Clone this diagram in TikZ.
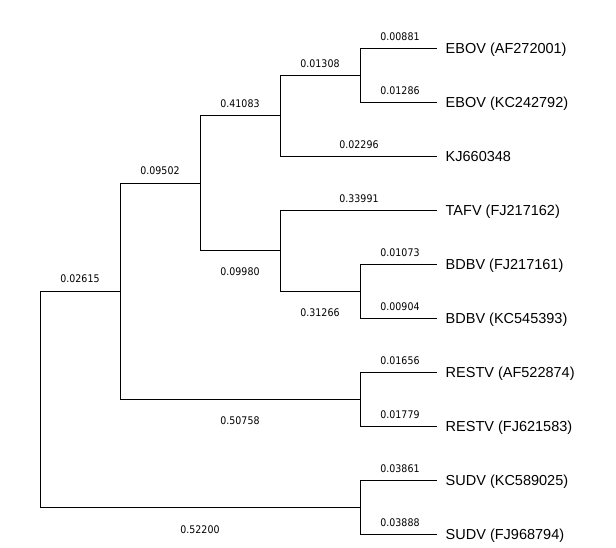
\documentclass[tikz,border=0pt]{standalone}
\usepackage{fontspec}
\setmainfont{Liberation Sans}
\newfontfamily\numfont{DejaVu Sans Condensed}
\begin{document}
\begin{tikzpicture}[x=1pt,y=-1pt,
  branch/.style={line width=0.9pt, black},
  leaf/.style={anchor=west, inner xsep=8.5pt, inner ysep=0pt, text height=10.4pt, text depth=0pt, font=\fontsize{14.5}{16}\selectfont},
  blen/.style={inner sep=0pt, text height=7.6pt, text depth=0pt, font=\numfont\fontsize{10.5}{12}\selectfont}]
\useasboundingbox[fill=white] (0,0) rectangle (616,548);
% internal nodes
\coordinate (n1) at (40,399);
\coordinate (n2) at (120,291);
\coordinate (n3) at (360,507);
\coordinate (n4) at (200,183);
\coordinate (n5) at (360,399);
\coordinate (n6) at (280,115.5);
\coordinate (n7) at (280,250.5);
\coordinate (n8) at (360,75);
\coordinate (n9) at (360,291);
% leaves
\node[leaf] (l1) at (437,48) {EBOV (AF272001)};
\node[leaf] (l2) at (437,102) {EBOV (KC242792)};
\node[leaf] (l3) at (437,156) {KJ660348};
\node[leaf] (l4) at (437,210) {TAFV (FJ217162)};
\node[leaf] (l5) at (437,264) {BDBV (FJ217161)};
\node[leaf] (l6) at (437,318) {BDBV (KC545393)};
\node[leaf] (l7) at (437,372) {RESTV (AF522874)};
\node[leaf] (l8) at (437,426) {RESTV (FJ621583)};
\node[leaf] (l9) at (437,480) {SUDV (KC589025)};
\node[leaf] (l10) at (437,534) {SUDV (FJ968794)};
% branches
\draw[branch] (n1) |- (n2);
\draw[branch] (n1) |- (n3);
\draw[branch] (n2) |- (n4);
\draw[branch] (n2) |- (n5);
\draw[branch] (n4) |- (n6);
\draw[branch] (n4) |- (n7);
\draw[branch] (n6) |- (n8);
\draw[branch] (n6) |- (l3.west);
\draw[branch] (n8) |- (l1.west);
\draw[branch] (n8) |- (l2.west);
\draw[branch] (n7) |- (l4.west);
\draw[branch] (n7) |- (n9);
\draw[branch] (n9) |- (l5.west);
\draw[branch] (n9) |- (l6.west);
\draw[branch] (n5) |- (l7.west);
\draw[branch] (n5) |- (l8.west);
\draw[branch] (n3) |- (l9.west);
\draw[branch] (n3) |- (l10.west);
% branch lengths
\node[blen] (b1) at (80,279) {0.02615};
\node[blen] (b2) at (200,530) {0.52200};
\node[blen] (b3) at (160,171) {0.09502};
\node[blen] (b4) at (240,421) {0.50758};
\node[blen] (b5) at (240,104) {0.41083};
\node[blen] (b6) at (240,272) {0.09980};
\node[blen] (b7) at (320,64) {0.01308};
\node[blen] (b8) at (359,145) {0.02296};
\node[blen] (b9) at (400,37) {0.00881};
\node[blen] (b10) at (400,91) {0.01286};
\node[blen] (b11) at (359,199) {0.33991};
\node[blen] (b12) at (320,313) {0.31266};
\node[blen] (b13) at (400,253) {0.01073};
\node[blen] (b14) at (400,307) {0.00904};
\node[blen] (b15) at (400,361) {0.01656};
\node[blen] (b16) at (400,415) {0.01779};
\node[blen] (b17) at (400,469) {0.03861};
\node[blen] (b18) at (400,523) {0.03888};
\end{tikzpicture}
\end{document}
